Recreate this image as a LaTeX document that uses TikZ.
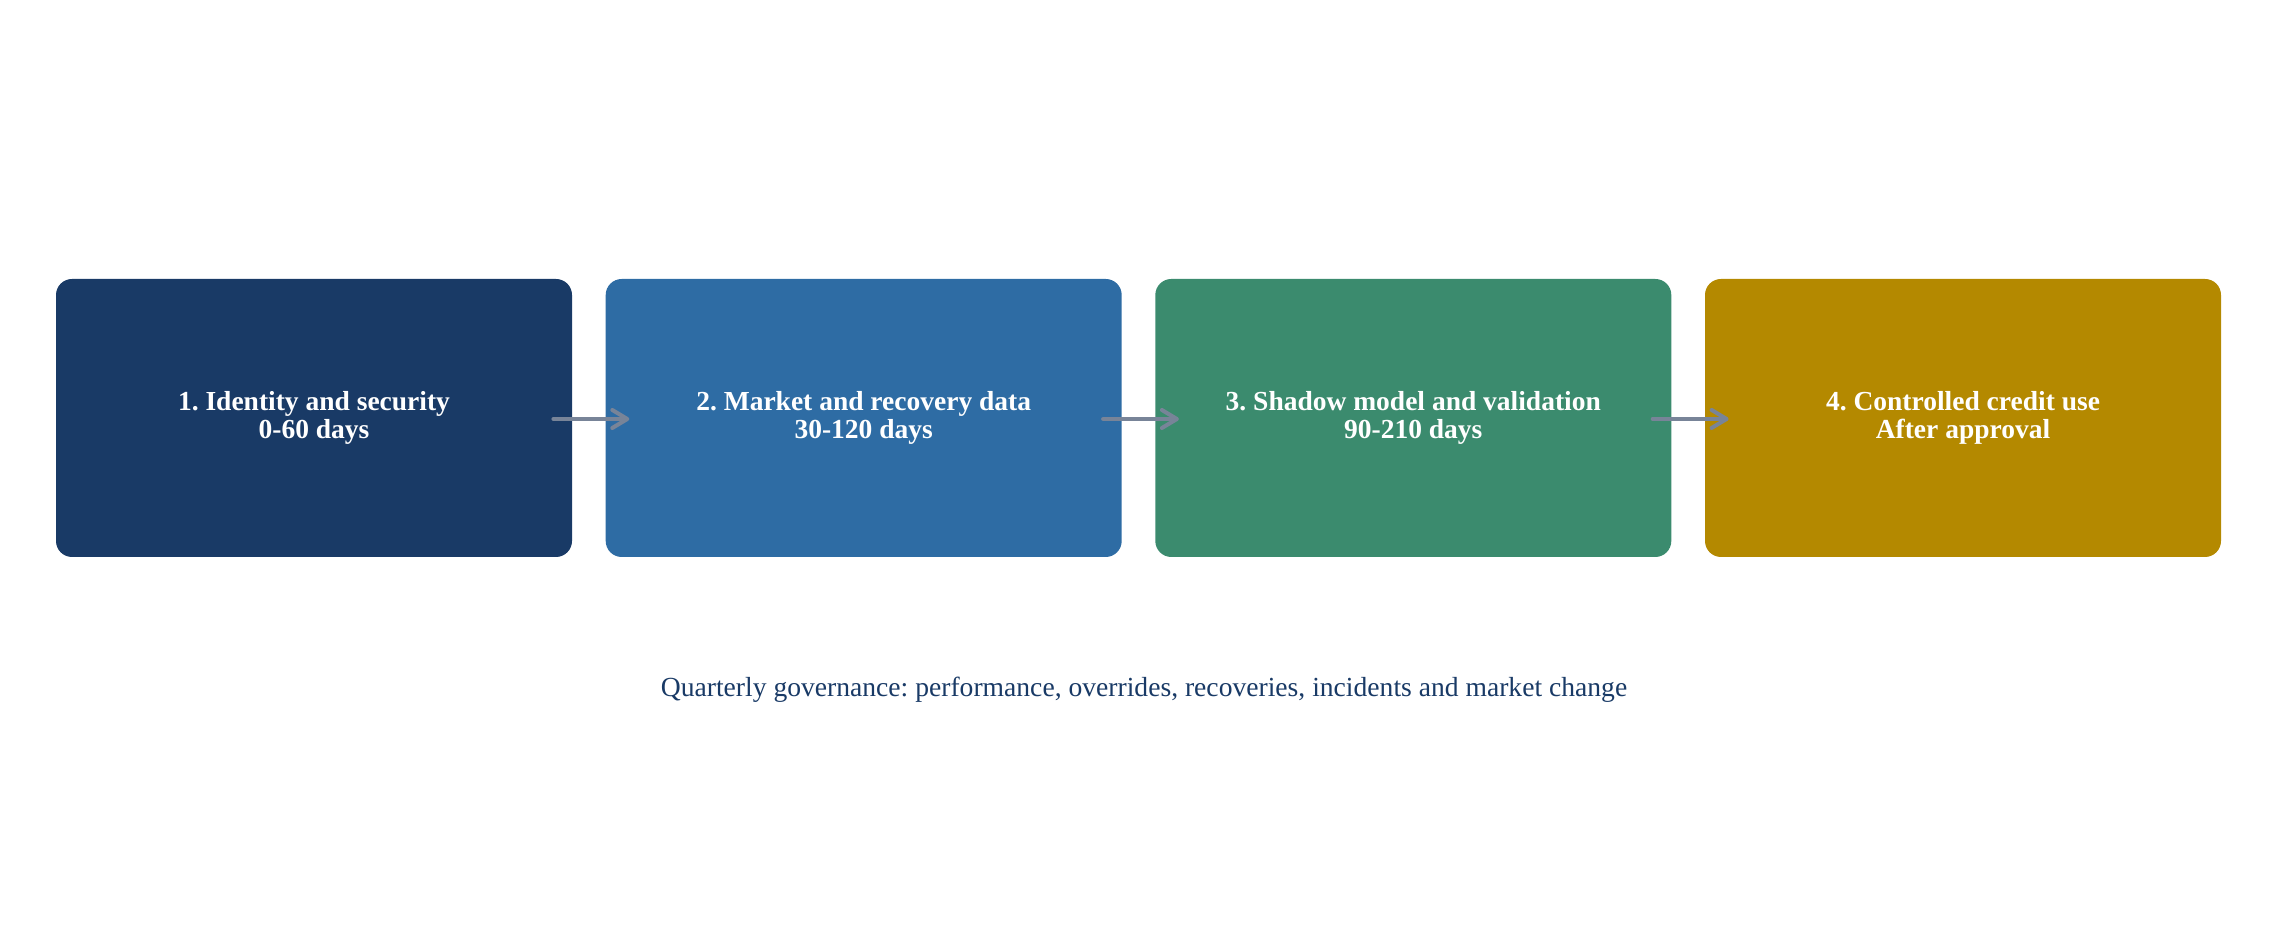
\documentclass[tikz,border=0pt]{standalone}
\usepackage{fontspec}
\setmainfont{Liberation Serif}
\usetikzlibrary{arrows.meta,positioning}
\definecolor{cnavy}{RGB}{25,58,102}
\definecolor{cblue}{RGB}{46,108,164}
\definecolor{cgreen}{RGB}{59,139,110}
\definecolor{cgold}{RGB}{180,137,0}
\definecolor{carrow}{RGB}{120,132,152}
\tikzset{
  stagebox/.style={draw=none, rounded corners=8pt, minimum width=258pt, minimum height=139pt, inner sep=0pt},
  stagetext/.style={text=white, align=center, font=\fontsize{13.75}{14}\selectfont\bfseries},
  flowarrow/.style={draw=carrow, line width=2pt, line cap=round, -{Straight Barb[length=7.5pt,width=9pt,line cap=round,line join=round]}},
  captiontext/.style={text=cnavy, font=\fontsize{13.8}{16}\selectfont, anchor=base}
}
\begin{document}
\frenchspacing
\begin{tikzpicture}[x=1pt,y=1pt]
\useasboundingbox (0,0) rectangle (1144,473);
\node[stagebox, fill=cnavy] (b1) at (157,264) {};
\node[stagebox, fill=cblue] (b2) at (431.85,264) {};
\node[stagebox, fill=cgreen] (b3) at (706.65,264) {};
\node[stagebox, fill=cgold] (b4) at (981.5,264) {};
\node[stagetext] (t1) at (b1.center) {1. Identity and security\\0-60 days};
\node[stagetext] (t2) at (b2.center) {2. Market and recovery data\\30-120 days};
\node[stagetext] (t3) at (b3.center) {3. Shadow model and validation\\90-210 days};
\node[stagetext] (t4) at (b4.center) {4. Controlled credit use\\After approval};
\draw[flowarrow] ([xshift=-9.5pt,yshift=-0.5pt]b1.east) -- ([xshift=12pt,yshift=-0.5pt]b2.west);
\draw[flowarrow] ([xshift=-9.5pt,yshift=-0.5pt]b2.east) -- ([xshift=12pt,yshift=-0.5pt]b3.west);
\draw[flowarrow] ([xshift=-9.5pt,yshift=-0.5pt]b3.east) -- ([xshift=12pt,yshift=-0.5pt]b4.west);
\node[captiontext] (cap) at (572,124.5) {Quarterly governance: performance, overrides, recoveries, incidents and market change};
\end{tikzpicture}
\end{document}
